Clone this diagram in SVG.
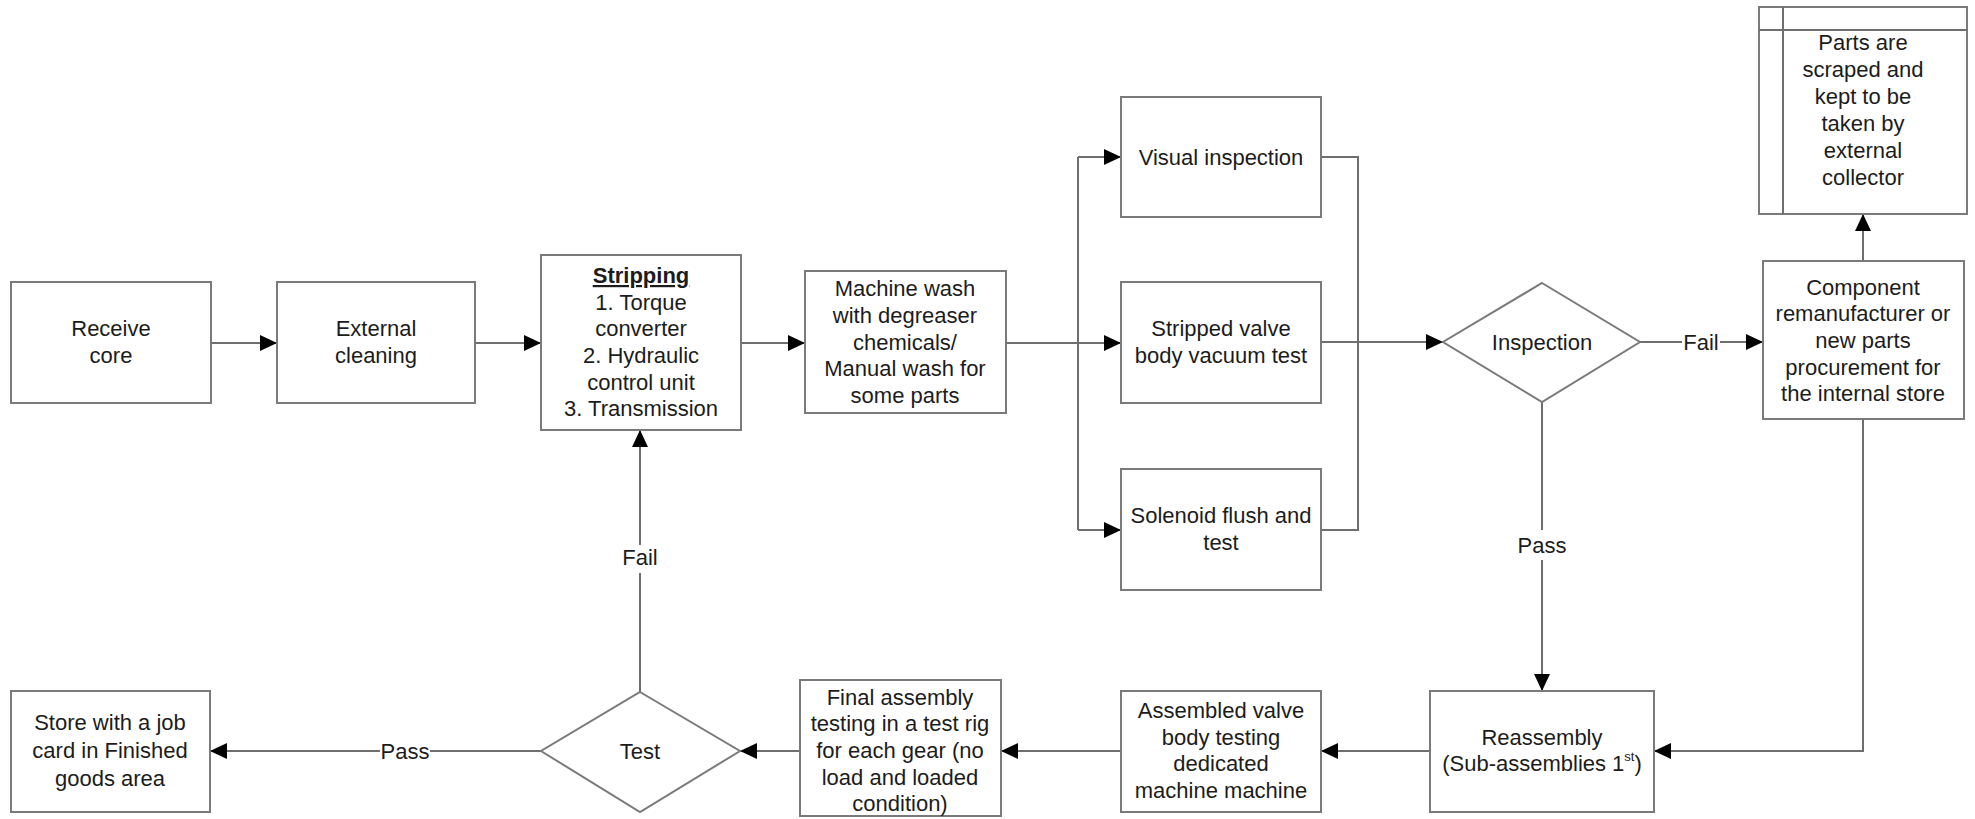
<svg xmlns="http://www.w3.org/2000/svg" width="1975" height="819" viewBox="0 0 1975 819">
  <style>
    .box { fill: #ffffff; stroke: #7a7a7a; stroke-width: 2; }
    .dia { fill: #ffffff; stroke: #7a7a7a; stroke-width: 2; }
    .ln { fill: none; stroke: #6e6e6e; stroke-width: 2; }
    .arr { marker-end: url(#head); }
    text { font-family: "Liberation Sans", Arial, sans-serif; font-size: 22px; fill: #1c1c1c; text-anchor: middle; }
    .lbl { fill: #ffffff; stroke: none; }
  </style>
  <defs>
    <marker id="head" markerUnits="userSpaceOnUse" markerWidth="18" markerHeight="18" viewBox="0 0 18 18" refX="17" refY="9" orient="auto">
      <path d="M0,1 L17,9 L0,17 Z" fill="#000000"/>
    </marker>
  </defs>

  <rect width="1975" height="819" fill="#ffffff"/>

  <!-- connectors -->
  <g id="connectors">
    <line class="ln arr" x1="211" y1="343" x2="277" y2="343"/>
    <line class="ln arr" x1="475" y1="343" x2="541" y2="343"/>
    <line class="ln arr" x1="741" y1="343" x2="805" y2="343"/>
    <line class="ln arr" x1="1006" y1="343" x2="1121" y2="343"/>
    <line class="ln" x1="1078" y1="157" x2="1078" y2="530"/>
    <line class="ln arr" x1="1078" y1="157" x2="1121" y2="157"/>
    <line class="ln arr" x1="1078" y1="530" x2="1121" y2="530"/>
    <polyline class="ln" points="1321,157 1358,157 1358,530 1321,530"/>
    <line class="ln arr" x1="1321" y1="342" x2="1443" y2="342"/>
    <!-- inspection fail -->
    <line class="ln arr" x1="1640" y1="342" x2="1763" y2="342"/>
    <rect class="lbl" x="1682" y="330" width="38" height="24"/>
    <text x="1701" y="350">Fail</text>
    <!-- component to scrap store -->
    <line class="ln arr" x1="1863" y1="261" x2="1863" y2="214"/>
    <!-- inspection pass -->
    <line class="ln arr" x1="1542" y1="402" x2="1542" y2="691"/>
    <rect class="lbl" x="1520" y="530" width="44" height="30"/>
    <text x="1542" y="553">Pass</text>
    <!-- component to reassembly -->
    <polyline class="ln arr" points="1863,419 1863,751 1654,751"/>
    <line class="ln arr" x1="1430" y1="751" x2="1321" y2="751"/>
    <line class="ln arr" x1="1121" y1="751" x2="1001" y2="751"/>
    <line class="ln arr" x1="800" y1="751" x2="740" y2="751"/>
    <!-- test pass -->
    <line class="ln arr" x1="541" y1="751" x2="210" y2="751"/>
    <rect class="lbl" x="380" y="738" width="50" height="26"/>
    <text x="405" y="759">Pass</text>
    <!-- test fail -->
    <line class="ln arr" x1="640" y1="692" x2="640" y2="430"/>
    <rect class="lbl" x="620" y="545" width="40" height="28"/>
    <text x="640" y="565">Fail</text>
  </g>

  <g id="receive-core">
    <rect class="box" x="11" y="282" width="200" height="121"/>
    <text x="111" y="336">Receive</text>
    <text x="111" y="363">core</text>
  </g>

  <g id="external-cleaning">
    <rect class="box" x="277" y="282" width="198" height="121"/>
    <text x="376" y="336">External</text>
    <text x="376" y="363">cleaning</text>
  </g>

  <g id="stripping">
    <rect class="box" x="541" y="255" width="200" height="175"/>
    <text x="641" y="283" font-weight="bold" text-decoration="underline">Stripping</text>
    <text x="641" y="310">1. Torque</text>
    <text x="641" y="336">converter</text>
    <text x="641" y="363">2. Hydraulic</text>
    <text x="641" y="390">control unit</text>
    <text x="641" y="416">3. Transmission</text>
  </g>

  <g id="machine-wash">
    <rect class="box" x="805" y="271" width="201" height="142"/>
    <text x="905" y="296">Machine wash</text>
    <text x="905" y="323">with degreaser</text>
    <text x="905" y="350">chemicals/</text>
    <text x="905" y="376">Manual wash for</text>
    <text x="905" y="403">some parts</text>
  </g>

  <g id="visual-inspection">
    <rect class="box" x="1121" y="97" width="200" height="120"/>
    <text x="1221" y="165">Visual inspection</text>
  </g>

  <g id="vacuum-test">
    <rect class="box" x="1121" y="282" width="200" height="121"/>
    <text x="1221" y="336">Stripped valve</text>
    <text x="1221" y="363">body vacuum test</text>
  </g>

  <g id="solenoid-flush">
    <rect class="box" x="1121" y="469" width="200" height="121"/>
    <text x="1221" y="523">Solenoid flush and</text>
    <text x="1221" y="550">test</text>
  </g>

  <g id="inspection">
    <polygon class="dia" points="1542,283 1640,342 1542,402 1443,342"/>
    <text x="1542" y="350">Inspection</text>
  </g>

  <g id="component-source">
    <rect class="box" x="1763" y="261" width="201" height="158"/>
    <text x="1863" y="295">Component</text>
    <text x="1863" y="321">remanufacturer or</text>
    <text x="1863" y="348">new parts</text>
    <text x="1863" y="375">procurement for</text>
    <text x="1863" y="401">the internal store</text>
  </g>

  <g id="scrap-store">
    <rect class="box" x="1759" y="7" width="208" height="207"/>
    <line class="ln" x1="1759" y1="30" x2="1967" y2="30"/>
    <line class="ln" x1="1783" y1="7" x2="1783" y2="214"/>
    <text x="1863" y="50">Parts are</text>
    <text x="1863" y="77">scraped and</text>
    <text x="1863" y="104">kept to be</text>
    <text x="1863" y="131">taken by</text>
    <text x="1863" y="158">external</text>
    <text x="1863" y="185">collector</text>
  </g>

  <g id="reassembly">
    <rect class="box" x="1430" y="691" width="224" height="121"/>
    <text x="1542" y="745">Reassembly</text>
    <text x="1542" y="771">(Sub-assemblies 1<tspan font-size="13" dy="-10">st</tspan><tspan dy="10">)</tspan></text>
  </g>

  <g id="valve-body-testing">
    <rect class="box" x="1121" y="691" width="200" height="121"/>
    <text x="1221" y="718">Assembled valve</text>
    <text x="1221" y="745">body testing</text>
    <text x="1221" y="771">dedicated</text>
    <text x="1221" y="798">machine machine</text>
  </g>

  <g id="final-assembly-testing">
    <rect class="box" x="800" y="680" width="201" height="136"/>
    <text x="900" y="705">Final assembly</text>
    <text x="900" y="731">testing in a test rig</text>
    <text x="900" y="758">for each gear (no</text>
    <text x="900" y="785">load and loaded</text>
    <text x="900" y="811">condition)</text>
  </g>

  <g id="test">
    <polygon class="dia" points="640,692 740,751 640,812 541,751"/>
    <text x="640" y="759">Test</text>
  </g>

  <g id="finished-goods">
    <rect class="box" x="11" y="691" width="199" height="121"/>
    <text x="110" y="730">Store with a job</text>
    <text x="110" y="758">card in Finished</text>
    <text x="110" y="786">goods area</text>
  </g>
</svg>
